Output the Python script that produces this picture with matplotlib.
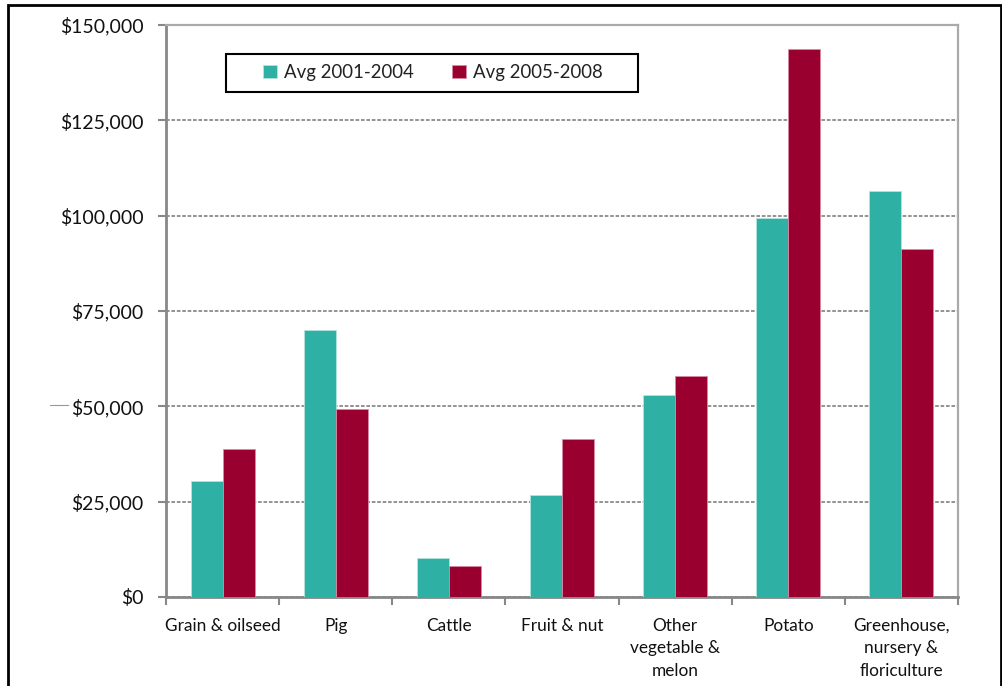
import matplotlib.pyplot as plt
import numpy as np
from matplotlib.lines import Line2D
from matplotlib.patches import Rectangle
from matplotlib.ticker import FuncFormatter

categories = ['Grain & oilseed', 'Pig', 'Cattle', 'Fruit & nut',
              'Other\nvegetable &\nmelon', 'Potato',
              'Greenhouse,\nnursery &\nfloriculture']
avg_2001_2004 = [30300, 70100, 10100, 26800, 52900, 99400, 106400]
avg_2005_2008 = [38800, 49400, 8100, 41400, 57900, 143800, 91300]
series_names = ['Avg 2001-2004', 'Avg 2005-2008']

teal = '#2EB1A4'
red = '#990030'

plt.rcParams['font.family'] = ['Lato', 'DejaVu Sans']

fig = plt.figure(figsize=(10.03, 6.86), dpi=100)
ax = fig.add_axes([166 / 1003, 1 - 597 / 686, 792 / 1003, 572 / 686])

x = np.arange(len(categories))
w = 0.283
ax.bar(x - w / 2, avg_2001_2004, w, color=teal, edgecolor='#b5e3dd', linewidth=0.6,
       label=series_names[0], zorder=3)
ax.bar(x + w / 2, avg_2005_2008, w, color=red, edgecolor='#d98aa3', linewidth=0.6,
       label=series_names[1], zorder=3)

ax.set_xlim(-0.5, len(categories) - 0.5)
ax.set_ylim(0, 150000)
ax.set_yticks(np.arange(0, 150001, 25000))
ax.yaxis.set_major_formatter(FuncFormatter(lambda v, p: '${:,.0f}'.format(v)))
ax.grid(axis='y', color='#8a8a8a', linestyle=(0, (2, 1)), linewidth=1.3, zorder=0)

ax.set_xticks(x)
ax.set_xticklabels(categories, fontsize=12.4, linespacing=1.5, color='#111111')
ax.set_xticks(np.arange(-0.5, len(categories)), minor=True)
ax.tick_params(axis='x', which='major', length=0, pad=15)
ax.tick_params(axis='x', which='minor', length=6, width=1.5, color='#888888')
ax.tick_params(axis='y', length=6, width=1.5, color='#888888', labelsize=14,
               pad=10, labelcolor='#111111')

for s in ['left', 'bottom']:
    ax.spines[s].set_color('#888888')
    ax.spines[s].set_linewidth(2)
for s in ['top', 'right']:
    ax.spines[s].set_color('#aaaaaa')
    ax.spines[s].set_linewidth(1.6)

# legend box drawn separately (wide side padding as in the original)
ax.add_patch(Rectangle(((226 - 166) / 792, (597 - 92) / 572), (638 - 226) / 792,
                       (92 - 54) / 572, transform=ax.transAxes, fill=True,
                       facecolor='white', edgecolor='black', linewidth=1.5,
                       zorder=4, clip_on=False))
leg = ax.legend(loc='center', bbox_to_anchor=(0.337, 0.917), ncol=2,
                fontsize=13.4, frameon=False,
                handlelength=0.75, handleheight=0.75, columnspacing=2.0,
                borderpad=0.2, handletextpad=0.4)
leg.set_zorder(5)
for t in leg.get_texts():
    t.set_color('#222222')

# outer frame of the chart area
fig.add_artist(Rectangle((8 / 1003, -0.02), (1001 - 8) / 1003, 1 - 5 / 686 + 0.02,
                         transform=fig.transFigure, fill=False,
                         edgecolor='black', linewidth=2))
# tiny leftover axis title mark
fig.add_artist(Line2D([50 / 1003, 68 / 1003], [1 - 405 / 686, 1 - 405 / 686],
                      transform=fig.transFigure, color='#999999', linewidth=0.8))

fig.savefig('out.png', dpi=100)
